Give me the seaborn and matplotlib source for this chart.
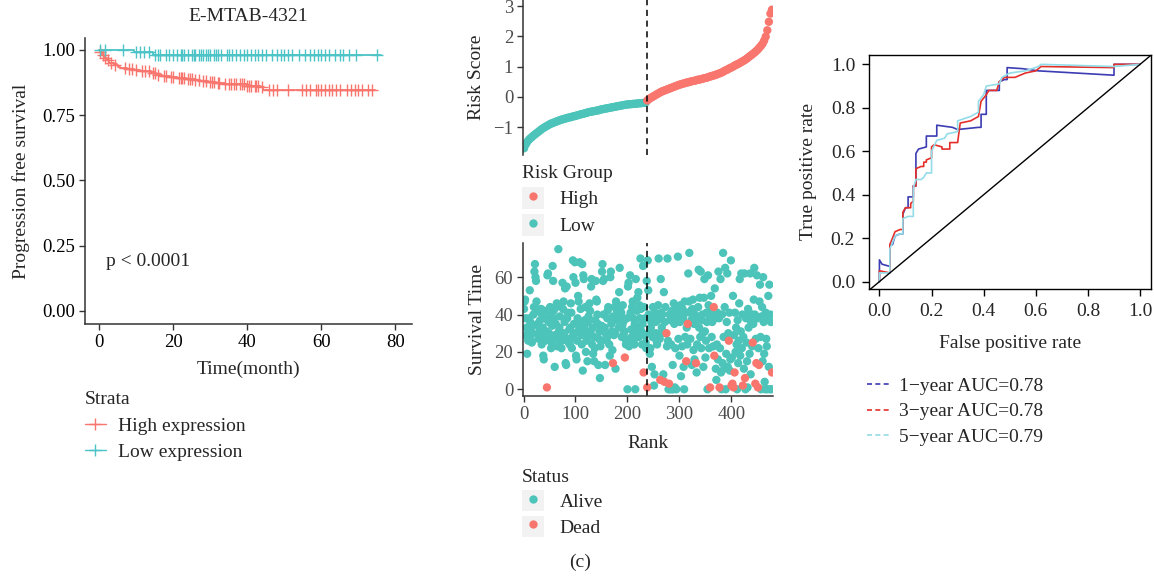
import numpy as np
import pandas as pd
import matplotlib
matplotlib.use("Agg")
import matplotlib.pyplot as plt
import seaborn as sns
from matplotlib.lines import Line2D
from matplotlib.patches import Rectangle

# ---------------- data ----------------
# Kaplan-Meier (E-MTAB-4321)
high_times = [0, 0.3, 0.8, 1.3, 2.1, 2.8, 3.9, 5.0, 5.7, 7.5, 9.3, 11, 12.9, 14, 15.5, 17,
              19.1, 21, 23.6, 25.5, 27.2, 29.5, 31.7, 34, 36.2, 40, 43.4, 44.3, 74.4]
high_surv = [1.0, 0.99, 0.98, 0.97, 0.96, 0.95, 0.94, 0.935, 0.93, 0.927, 0.924, 0.92, 0.917,
             0.911, 0.905, 0.9, 0.895, 0.891, 0.888, 0.885, 0.882, 0.878, 0.873, 0.87, 0.867,
             0.862, 0.856, 0.847, 0.847]
low_times = [0, 9.3, 14.5, 76.2]
low_surv = [1.0, 0.993, 0.98, 0.98]
high_censor = [0.3, 1.0, 1.6, 2.4, 3.2, 4.3, 7.0, 8.0, 9.0, 10.0, 11.5, 12.5, 13.5, 14.5, 15.0,
               16.0, 17.5, 18.0, 19.5, 20.0, 21.5, 22.0, 22.5, 23.0, 24.0, 24.5, 25.0, 26.0,
               27.0, 28.0, 29.0, 30.0, 30.5, 31.0, 32.0, 32.5, 34.0, 35.0, 35.5, 36.5, 37.0,
               38.0, 38.5, 39.0, 40.0, 40.5, 41.0, 42.0, 42.5, 43.0, 44.0, 46.0, 47.0, 48.0,
               51.0, 54.7, 56.0, 57.0, 58.5, 59.0, 60.0, 61.0, 62.0, 63.0, 64.0, 65.0, 67.0,
               68.0, 69.0, 70.0, 71.0, 72.5, 73.6]
low_censor = [0.3, 1.6, 6.5, 10.0, 11.0, 12.0, 13.5, 15.0, 16.0, 16.5, 18.0, 19.0, 20.0, 21.0,
              22.0, 22.5, 23.0, 24.0, 25.0, 25.5, 26.0, 27.0, 27.5, 28.0, 29.0, 29.5, 30.0,
              31.0, 31.5, 32.0, 33.0, 34.5, 35.0, 36.0, 37.0, 38.0, 39.0, 40.0, 41.0, 42.0,
              43.0, 44.0, 45.0, 46.6, 48.0, 49.0, 50.0, 51.0, 52.0, 54.0, 55.5, 57.0, 58.0,
              59.0, 60.0, 61.0, 62.0, 63.6, 65.0, 66.0, 67.6, 69.5, 75.0]

# Risk score (sampled every third rank): low group then high group
risk_low = [-1.70, -1.58, -1.49, -1.42, -1.37, -1.33, -1.28, -1.24, -1.20, -1.16, -1.12, -1.08,
            -1.04, -1.01, -0.98, -0.95, -0.92, -0.89, -0.87, -0.85, -0.83, -0.81, -0.79, -0.77,
            -0.75, -0.74, -0.72, -0.71, -0.69, -0.68, -0.67, -0.65, -0.64, -0.63, -0.61, -0.60,
            -0.58, -0.57, -0.56, -0.54, -0.53, -0.51, -0.50, -0.49, -0.48, -0.47, -0.46, -0.45,
            -0.44, -0.42, -0.41, -0.40, -0.39, -0.38, -0.37, -0.36, -0.35, -0.34, -0.33, -0.32,
            -0.31, -0.30, -0.29, -0.28, -0.27, -0.26, -0.25, -0.25, -0.24, -0.24, -0.23, -0.23,
            -0.22, -0.22, -0.21, -0.21, -0.20, -0.20, -0.19]
risk_high = [-0.12, -0.08, -0.04, -0.01, 0.02, 0.05, 0.08, 0.11, 0.14, 0.17, 0.19, 0.21, 0.23,
             0.25, 0.27, 0.29, 0.31, 0.33, 0.35, 0.37, 0.39, 0.41, 0.42, 0.44, 0.45, 0.47, 0.48,
             0.49, 0.51, 0.52, 0.53, 0.54, 0.56, 0.57, 0.58, 0.59, 0.61, 0.62, 0.63, 0.65, 0.67,
             0.68, 0.70, 0.71, 0.73, 0.75, 0.77, 0.79, 0.81, 0.84, 0.87, 0.89, 0.92, 0.95, 0.97,
             1.00, 1.03, 1.06, 1.08, 1.11, 1.14, 1.17, 1.20, 1.23, 1.27, 1.31, 1.35, 1.39, 1.43,
             1.47, 1.52, 1.57, 1.63, 1.69, 1.76, 1.86, 1.99, 2.20, 2.48, 2.75, 2.88]
risk_cut_rank = 237.5

# Survival time by rank (ranks 1..478)
surv_time = [
    43, 47, 48, 38, 29, 33, 19, 28, 26, 31, 38, 53, 36, 31, 26, 25, 30, 34, 40, 44,
    63, 67, 60, 58, 47, 43, 35, 29, 27, 30, 32, 37, 41, 43, 24, 28, 33, 18, 16, 42,
    38, 26, 29, 31, 1, 61, 62, 36, 30, 27, 44, 40, 22, 25, 34, 66, 58, 42, 38, 12,
    29, 35, 44, 46, 23, 27, 75, 31, 33, 39, 45, 28, 22, 26, 57, 43, 47, 30, 36, 54,
    14, 13, 55, 38, 41, 27, 25, 32, 24, 33, 46, 41, 22, 28, 69, 60, 35, 30, 68, 57,
    18, 16, 26, 38, 50, 47, 32, 68, 35, 43, 29, 24, 67, 10, 61, 59, 33, 37, 44, 20,
    26, 30, 15, 36, 39, 28, 46, 42, 31, 55, 59, 24, 33, 19, 28, 15, 22, 37, 58, 48,
    47, 40, 35, 13, 27, 31, 6, 23, 26, 34, 63, 67, 58, 40, 59, 33, 13, 30, 27, 26,
    38, 42, 44, 29, 24, 18, 60, 63, 35, 31, 21, 14, 39, 29, 44, 30, 11, 47, 37, 42,
    45, 40, 33, 52, 65, 43, 38, 41, 28, 34, 45, 36, 30, 31, 17, 27, 24, 26, 38, 0,
    55, 57, 23, 26, 61, 41, 32, 28, 44, 47, 38, 26, 24, 35, 0, 59, 30, 42, 49, 33,
    52, 28, 45, 38, 70, 43, 31, 24, 35, 66, 9, 44, 29, 38, 25, 22, 58, 1, 69, 53,
    40, 30, 19, 22, 33, 36, 12, 28, 44, 39, 2, 8, 41, 36, 30, 26, 24, 37, 45, 70,
    38, 27, 5, 59, 41, 33, 40, 30, 8, 52, 4, 36, 44, 30, 30, 23, 70, 26, 0, 3,
    40, 0, 37, 24, 0, 42, 13, 0, 46, 35, 1, 22, 38, 0, 39, 44, 71, 27, 41, 18,
    36, 45, 7, 40, 23, 43, 38, 12, 0, 47, 28, 41, 15, 33, 24, 35, 62, 47, 73, 41,
    27, 42, 37, 13, 43, 48, 21, 35, 16, 40, 36, 14, 9, 24, 38, 44, 64, 33, 49, 28,
    63, 22, 37, 40, 30, 12, 49, 59, 31, 17, 26, 41, 36, 0, 61, 45, 22, 39, 1, 42,
    50, 28, 36, 40, 23, 44, 18, 54, 38, 11, 5, 24, 41, 16, 63, 38, 1, 22, 59, 9,
    0, 40, 14, 73, 28, 11, 44, 65, 0, 19, 36, 62, 12, 30, 26, 41, 10, 16, 69, 2,
    17, 3, 50, 1, 29, 9, 41, 20, 33, 24, 0, 37, 14, 26, 46, 59, 18, 31, 62, 22,
    40, 2, 28, 11, 62, 6, 0, 38, 25, 15, 1, 43, 33, 41, 19, 62, 8, 36, 40, 23,
    25, 35, 48, 65, 40, 3, 27, 14, 61, 38, 1, 22, 13, 47, 56, 28, 0, 39, 44, 15,
    60, 36, 19, 4, 0, 41, 27, 23, 0, 38, 50, 12, 56, 0, 40, 36, 0, 9]
dead_ranks = [45, 172, 195, 231, 238, 263, 271, 275, 280, 313, 316, 332, 359, 366, 367, 377,
              395, 400, 402, 404, 406, 422, 426, 441, 446, 448, 451, 453, 478]

# ROC curves (fpr, tpr)
roc1_fpr = [0, 0, 0.01, 0.04, 0.04, 0.05, 0.06, 0.08, 0.09, 0.09, 0.10, 0.11, 0.11, 0.13, 0.13,
            0.14, 0.14, 0.15, 0.18, 0.18, 0.20, 0.22, 0.22, 0.28, 0.30, 0.38, 0.39, 0.39, 0.41,
            0.41, 0.46, 0.46, 0.48, 0.49, 0.49, 0.55, 0.61, 0.90, 0.90, 1.0]
roc1_tpr = [0, 0.10, 0.08, 0.07, 0.17, 0.17, 0.21, 0.22, 0.22, 0.31, 0.34, 0.34, 0.39, 0.39,
            0.44, 0.44, 0.59, 0.61, 0.62, 0.67, 0.67, 0.67, 0.72, 0.71, 0.70, 0.71, 0.71, 0.77,
            0.77, 0.88, 0.88, 0.92, 0.93, 0.93, 0.985, 0.98, 0.97, 0.95, 1.0, 1.0]
roc3_fpr = [0, 0, 0.04, 0.04, 0.06, 0.08, 0.09, 0.09, 0.10, 0.12, 0.12, 0.13, 0.13, 0.14, 0.14,
            0.16, 0.17, 0.17, 0.18, 0.18, 0.20, 0.20, 0.21, 0.24, 0.24, 0.27, 0.27, 0.30, 0.31,
            0.35, 0.38, 0.39, 0.41, 0.42, 0.45, 0.46, 0.48, 0.52, 0.56, 0.60, 0.62, 0.90, 0.90,
            1.0]
roc3_tpr = [0, 0.05, 0.04, 0.17, 0.23, 0.24, 0.24, 0.32, 0.34, 0.34, 0.36, 0.37, 0.44, 0.44,
            0.52, 0.53, 0.53, 0.55, 0.55, 0.56, 0.57, 0.62, 0.63, 0.62, 0.61, 0.61, 0.64, 0.64,
            0.73, 0.74, 0.76, 0.83, 0.86, 0.88, 0.88, 0.92, 0.94, 0.94, 0.96, 0.97, 0.99, 0.985,
            1.0, 1.0]
roc5_fpr = [0, 0, 0.04, 0.04, 0.06, 0.08, 0.09, 0.09, 0.11, 0.13, 0.13, 0.14, 0.16, 0.17, 0.18,
            0.20, 0.20, 0.22, 0.25, 0.26, 0.30, 0.30, 0.35, 0.38, 0.38, 0.40, 0.41, 0.46, 0.47,
            0.50, 0.56, 0.61, 0.62, 0.90, 1.0]
roc5_tpr = [0, 0.04, 0.04, 0.15, 0.21, 0.22, 0.22, 0.29, 0.30, 0.30, 0.43, 0.47, 0.47, 0.48,
            0.50, 0.50, 0.60, 0.65, 0.66, 0.68, 0.69, 0.74, 0.76, 0.78, 0.83, 0.86, 0.90, 0.91,
            0.94, 0.96, 0.97, 0.99, 1.0, 0.99, 1.0]
roc_labels = ["1\u2212year AUC=0.78", "3\u2212year AUC=0.78", "5\u2212year AUC=0.79"]

# ---------------- style ----------------
sns.set_style("ticks")
plt.rcParams["font.family"] = ["Liberation Serif", "DejaVu Serif"]
plt.rcParams["axes.unicode_minus"] = True

RED = "#F8766D"
TEAL_KM = "#4CC3C6"
TEAL = "#4CC4B9"
ROC_COLS = ["#3C3CB4", "#E4302A", "#93DCE8"]
W, H = 1154, 577
TFS = 13.5   # tick labels
LFS = 14     # axis labels / legend text

fig = plt.figure(figsize=(W / 100, H / 100), dpi=100)


def fa(l, t, r, b):
    return fig.add_axes([l / W, 1 - b / H, (r - l) / W, (b - t) / H])


def style_gg(ax, labcol="black"):
    for s in ["top", "right"]:
        ax.spines[s].set_visible(False)
    for s in ["left", "bottom"]:
        ax.spines[s].set_color("#333333")
        ax.spines[s].set_linewidth(1.1)
    ax.tick_params(direction="out", length=4, width=1, color="#333333",
                   labelsize=TFS, labelcolor=labcol, pad=3)


# ---------------- KM ----------------
ax1 = fa(85, 38, 412, 324)
ax1.step(high_times, high_surv, where="post", color=RED, lw=1.3)
ax1.step(low_times, low_surv, where="post", color=TEAL_KM, lw=1.3)


def step_at(times, surv, t):
    idx = np.searchsorted(times, t, side="right") - 1
    return np.asarray(surv)[idx]


ax1.plot(high_censor, step_at(high_times, high_surv, high_censor), ls="none", marker="+",
         ms=8, mew=1.0, color=RED)
ax1.plot(low_censor, step_at(low_times, low_surv, low_censor), ls="none", marker="+",
         ms=8, mew=1.0, color=TEAL_KM)
ax1.set_xlim(-3.8, 84.5)
ax1.set_ylim(-0.05, 1.045)
ax1.set_xticks([0, 20, 40, 60, 80])
ax1.set_yticks([0, 0.25, 0.5, 0.75, 1.0])
ax1.set_yticklabels(["0.00", "0.25", "0.50", "0.75", "1.00"])
style_gg(ax1)
ax1.set_xlabel("Time(month)", fontsize=LFS, labelpad=7)
ax1.set_ylabel("Progression free survival", fontsize=LFS, labelpad=9)
ax1.set_title("E-MTAB-4321", fontsize=LFS, pad=12)
ax1.text(1.9, 0.188, "p < 0.0001", fontsize=LFS, va="center", ha="left")

km_handles = [Line2D([], [], color=RED, marker="+", ms=8, lw=1.0),
              Line2D([], [], color=TEAL_KM, marker="+", ms=8, lw=1.0)]
fig.legend(km_handles, ["High expression", "Low expression"], title="Strata",
           loc="upper left", bbox_to_anchor=(67 / W, 1 - 374 / H), frameon=False,
           fontsize=LFS, title_fontsize=LFS, alignment="left", handlelength=1.1,
           labelspacing=0.45, handletextpad=0.6)

# ---------------- Risk score ----------------
ax2 = fa(523, 0, 773, 155)
low_rank = 1 + 3 * np.arange(len(risk_low))
high_rank = 238 + 3 * np.arange(len(risk_high))
df_risk = pd.DataFrame({
    "rank": np.concatenate([low_rank, high_rank]),
    "score": risk_low + risk_high,
    "group": ["Low"] * len(risk_low) + ["High"] * len(risk_high),
})
sns.scatterplot(data=df_risk, x="rank", y="score", hue="group",
                palette={"High": RED, "Low": TEAL}, s=36, linewidth=0, legend=False, ax=ax2)
ax2.axvline(risk_cut_rank, color="black", ls=(0, (4, 3)), lw=1.1)
ax2.set_xlim(-1, 480)
ax2.set_ylim(-1.92, 3.2)
ax2.set_yticks([-1, 0, 1, 2, 3])
style_gg(ax2, labcol="#4D4D4D")
ax2.spines["bottom"].set_visible(False)
ax2.set_xticks([])
ax2.set_xlabel("")
ax2.set_ylabel("Risk Score", fontsize=LFS, labelpad=6)

key_bg = "#F2F2F2"
rg_handles = [(Rectangle((0, 0), 1, 1, fc=key_bg, ec="none"),
               Line2D([], [], ls="none", marker="o", ms=6, color=RED, mec="none")),
              (Rectangle((0, 0), 1, 1, fc=key_bg, ec="none"),
               Line2D([], [], ls="none", marker="o", ms=6, color=TEAL, mec="none"))]
fig.legend(rg_handles, ["High", "Low"], title="Risk Group", loc="upper left",
           bbox_to_anchor=(504 / W, 1 - 147 / H), frameon=False, fontsize=LFS,
           title_fontsize=LFS, alignment="left", handlelength=1.15, handleheight=1.3,
           labelspacing=0.3, handletextpad=0.8)

# ---------------- Survival time ----------------
ax3 = fa(523, 243, 773, 396)
ranks = np.arange(1, len(surv_time) + 1)
status = np.where(np.isin(ranks, dead_ranks), "Dead", "Alive")
df_surv = pd.DataFrame({"rank": ranks, "time": surv_time, "status": status})
df_surv = df_surv.sort_values("status", kind="stable")
sns.scatterplot(data=df_surv, x="rank", y="time", hue="status",
                palette={"Alive": TEAL, "Dead": RED}, s=36, linewidth=0, legend=False, ax=ax3)
ax3.axvline(risk_cut_rank, color="black", ls=(0, (4, 3)), lw=1.1)
ax3.set_xlim(-1, 480)
ax3.set_ylim(-3.6, 78.3)
ax3.set_yticks([0, 20, 40, 60])
ax3.set_xticks([0, 100, 200, 300, 400])
style_gg(ax3, labcol="#4D4D4D")
ax3.set_xlabel("Rank", fontsize=LFS, labelpad=9)
ax3.set_ylabel("Survival Time", fontsize=LFS, labelpad=6)

st_handles = [(Rectangle((0, 0), 1, 1, fc=key_bg, ec="none"),
               Line2D([], [], ls="none", marker="o", ms=6, color=TEAL, mec="none")),
              (Rectangle((0, 0), 1, 1, fc=key_bg, ec="none"),
               Line2D([], [], ls="none", marker="o", ms=6, color=RED, mec="none"))]
fig.legend(st_handles, ["Alive", "Dead"], title="Status", loc="upper left",
           bbox_to_anchor=(504 / W, 1 - 451 / H), frameon=False, fontsize=LFS,
           title_fontsize=LFS, alignment="left", handlelength=1.15, handleheight=1.25,
           labelspacing=0.25, handletextpad=0.8)

# ---------------- ROC ----------------
ax4 = fa(869, 55, 1151, 289)
for fpr, tpr, col in zip([roc1_fpr, roc3_fpr, roc5_fpr], [roc1_tpr, roc3_tpr, roc5_tpr], ROC_COLS):
    sns.lineplot(x=fpr, y=tpr, sort=False, estimator=None, color=col, lw=1.2, ax=ax4)
ax4.axline((0, 0), (1, 1), color="black", lw=1.0)
ax4.set_xlim(-0.04, 1.042)
ax4.set_ylim(-0.034, 1.043)
ticks = np.arange(0, 1.01, 0.2)
ax4.set_xticks(ticks)
ax4.set_yticks(ticks)
ax4.set_xticklabels([f"{v:.1f}" for v in ticks])
ax4.set_yticklabels([f"{v:.1f}" for v in ticks])
for s in ax4.spines.values():
    s.set_color("black")
    s.set_linewidth(1.0)
ax4.tick_params(direction="out", length=5, width=1, color="black", labelsize=LFS, pad=5)
ax4.set_xlabel("False positive rate", fontsize=LFS, labelpad=11)
ax4.set_ylabel("True positive rate", fontsize=LFS, labelpad=10)

roc_handles = [Line2D([], [], color=c, ls=(0, (3, 2)), lw=1.2) for c in ROC_COLS]
fig.legend(roc_handles, roc_labels, loc="upper left", bbox_to_anchor=(849 / W, 1 - 360 / H),
           frameon=False, fontsize=LFS, handlelength=1.25, labelspacing=0.4,
           handletextpad=0.4)

fig.text(580 / W, 1 - 562 / H, "(c)", ha="center", va="center", fontsize=LFS)

fig.savefig("out.png", dpi=100)
